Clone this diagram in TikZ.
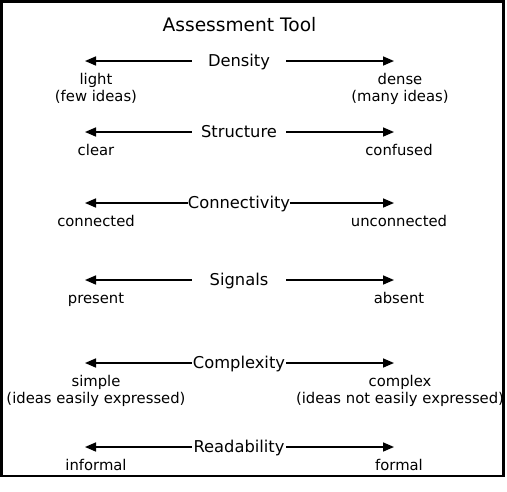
\documentclass[tikz,border=0pt]{standalone}
\usepackage{fontspec}
\setmainfont{DejaVu Sans}
\usetikzlibrary{arrows.meta}
\begin{document}
\begin{tikzpicture}[x=1pt,y=-1pt,
  axisline/.style={line width=1.6pt,-{Triangle[length=11pt,width=9pt]}},
  dimlabel/.style={font=\fontsize{16.3}{19}\selectfont, inner sep=0pt, minimum width=94pt, text height=11.6pt, text depth=0pt, anchor=center},
  pole/.style={font=\fontsize{14.8}{17}\selectfont, inner sep=0pt, anchor=base},
  titlestyle/.style={font=\fontsize{18.6}{22}\selectfont, inner sep=0pt, anchor=base}
  ]
\useasboundingbox (0,0) rectangle (507,491);
\draw[line width=2.2pt] (1.5,1.5) rectangle (503.5,476);

\node[titlestyle] (title) at (239.5,31) {Assessment Tool};

% Density
\node[dimlabel] (den) at (239,61) {Density};
\coordinate (denL) at (85,61);
\coordinate (denR) at (394,61);
\draw[axisline] (den.west) -- (denL);
\draw[axisline] (den.east) -- (denR);
\node[pole] (denA) at (96,84) {light};
\node[pole] (denB) at (96,101) {(few ideas)};
\node[pole] (denC) at (400,84) {dense};
\node[pole] (denD) at (400,101) {(many ideas)};

% Structure
\node[dimlabel] (str) at (239,132) {Structure};
\coordinate (strL) at (85,132);
\coordinate (strR) at (394,132);
\draw[axisline] (str.west) -- (strL);
\draw[axisline] (str.east) -- (strR);
\node[pole] (strA) at (96,155) {clear};
\node[pole] (strB) at (399,155) {confused};

% Connectivity
\node[dimlabel] (con) at (239,203) {Connectivity};
\coordinate (conL) at (85,203);
\coordinate (conR) at (394,203);
\draw[axisline] (con.west) -- (conL);
\draw[axisline] (con.east) -- (conR);
\node[pole] (conA) at (96,226.3) {connected};
\node[pole] (conB) at (399,226.3) {unconnected};

% Signals
\node[dimlabel] (sig) at (239,280) {Signals};
\coordinate (sigL) at (85,280);
\coordinate (sigR) at (394,280);
\draw[axisline] (sig.west) -- (sigL);
\draw[axisline] (sig.east) -- (sigR);
\node[pole] (sigA) at (96,303) {present};
\node[pole] (sigB) at (399,303) {absent};

% Complexity
\node[dimlabel] (cpx) at (239,363) {Complexity};
\coordinate (cpxL) at (85,363);
\coordinate (cpxR) at (394,363);
\draw[axisline] (cpx.west) -- (cpxL);
\draw[axisline] (cpx.east) -- (cpxR);
\node[pole] (cpxA) at (96,386.3) {simple};
\node[pole] (cpxB) at (96,403.3) {(ideas easily expressed)};
\node[pole] (cpxC) at (400,386.3) {complex};
\node[pole] (cpxD) at (400,403.3) {(ideas not easily expressed)};

% Readability
\node[dimlabel] (rea) at (239,447) {Readability};
\coordinate (reaL) at (85,447);
\coordinate (reaR) at (394,447);
\draw[axisline] (rea.west) -- (reaL);
\draw[axisline] (rea.east) -- (reaR);
\node[pole] (reaA) at (96,470.3) {informal};
\node[pole] (reaB) at (399,470.3) {formal};
\end{tikzpicture}
\end{document}
